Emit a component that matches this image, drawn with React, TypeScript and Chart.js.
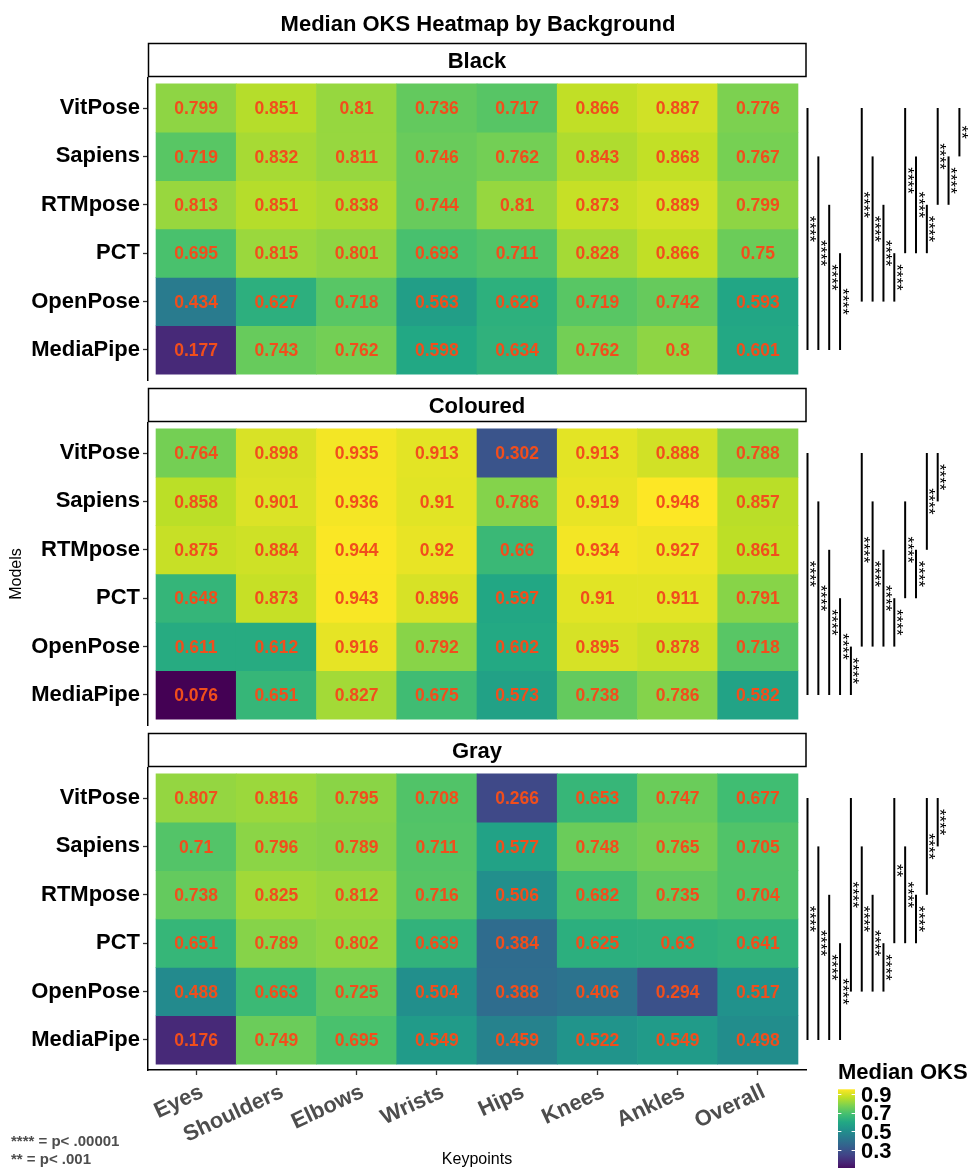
import React, { useEffect, useRef } from "react";
import { Chart, registerables } from "chart.js";

Chart.register(...registerables);

const FONT = "'Liberation Sans', Arial, Helvetica, sans-serif";
Chart.defaults.font.family = FONT;

// ---------------- data ----------------
const models = ["VitPose", "Sapiens", "RTMpose", "PCT", "OpenPose", "MediaPipe"];
const keypoints = ["Eyes", "Shoulders", "Elbows", "Wrists", "Hips", "Knees", "Ankles", "Overall"];
const backgrounds = ["Black", "Coloured", "Gray"];

// rows follow `models`, columns follow `keypoints`
const blackValues = [
  [0.799, 0.851, 0.81, 0.736, 0.717, 0.866, 0.887, 0.776],
  [0.719, 0.832, 0.811, 0.746, 0.762, 0.843, 0.868, 0.767],
  [0.813, 0.851, 0.838, 0.744, 0.81, 0.873, 0.889, 0.799],
  [0.695, 0.815, 0.801, 0.693, 0.711, 0.828, 0.866, 0.75],
  [0.434, 0.627, 0.718, 0.563, 0.628, 0.719, 0.742, 0.593],
  [0.177, 0.743, 0.762, 0.598, 0.634, 0.762, 0.8, 0.601],
];
const colouredValues = [
  [0.764, 0.898, 0.935, 0.913, 0.302, 0.913, 0.888, 0.788],
  [0.858, 0.901, 0.936, 0.91, 0.786, 0.919, 0.948, 0.857],
  [0.875, 0.884, 0.944, 0.92, 0.66, 0.934, 0.927, 0.861],
  [0.648, 0.873, 0.943, 0.896, 0.597, 0.91, 0.911, 0.791],
  [0.611, 0.612, 0.916, 0.792, 0.602, 0.895, 0.878, 0.718],
  [0.076, 0.651, 0.827, 0.675, 0.573, 0.738, 0.786, 0.582],
];
const grayValues = [
  [0.807, 0.816, 0.795, 0.708, 0.266, 0.653, 0.747, 0.677],
  [0.71, 0.796, 0.789, 0.711, 0.577, 0.748, 0.765, 0.705],
  [0.738, 0.825, 0.812, 0.716, 0.506, 0.682, 0.735, 0.704],
  [0.651, 0.789, 0.802, 0.639, 0.384, 0.625, 0.63, 0.641],
  [0.488, 0.663, 0.725, 0.504, 0.388, 0.406, 0.294, 0.517],
  [0.176, 0.749, 0.695, 0.549, 0.459, 0.522, 0.549, 0.498],
];

// pairwise comparisons (in bracket order); an empty label keeps the slot but draws nothing
const blackComparisons: [string, string, string][] = [
  ["VitPose", "MediaPipe", "****"],
  ["Sapiens", "MediaPipe", "****"],
  ["RTMpose", "MediaPipe", "****"],
  ["PCT", "MediaPipe", "****"],
  ["OpenPose", "MediaPipe", ""],
  ["VitPose", "OpenPose", "****"],
  ["Sapiens", "OpenPose", "****"],
  ["RTMpose", "OpenPose", "****"],
  ["PCT", "OpenPose", "****"],
  ["VitPose", "PCT", "****"],
  ["Sapiens", "PCT", "****"],
  ["RTMpose", "PCT", "****"],
  ["VitPose", "RTMpose", "****"],
  ["Sapiens", "RTMpose", "****"],
  ["VitPose", "Sapiens", "**"],
];
const colouredComparisons: [string, string, string][] = [
  ["VitPose", "MediaPipe", "****"],
  ["Sapiens", "MediaPipe", "****"],
  ["RTMpose", "MediaPipe", "****"],
  ["PCT", "MediaPipe", "****"],
  ["OpenPose", "MediaPipe", "****"],
  ["VitPose", "OpenPose", "****"],
  ["Sapiens", "OpenPose", "****"],
  ["RTMpose", "OpenPose", "****"],
  ["PCT", "OpenPose", "****"],
  ["Sapiens", "PCT", "****"],
  ["RTMpose", "PCT", "****"],
  ["VitPose", "RTMpose", "****"],
  ["VitPose", "Sapiens", "****"],
];
const grayComparisons: [string, string, string][] = [
  ["VitPose", "MediaPipe", "****"],
  ["Sapiens", "MediaPipe", "****"],
  ["RTMpose", "MediaPipe", "****"],
  ["PCT", "MediaPipe", "****"],
  ["VitPose", "OpenPose", "****"],
  ["Sapiens", "OpenPose", "****"],
  ["RTMpose", "OpenPose", "****"],
  ["PCT", "OpenPose", "****"],
  ["VitPose", "PCT", "**"],
  ["Sapiens", "PCT", "****"],
  ["RTMpose", "PCT", "****"],
  ["VitPose", "RTMpose", "****"],
  ["VitPose", "Sapiens", "****"],
];

const legendTicks = [0.9, 0.7, 0.5, 0.3];
const footnotes = ["**** = p< .00001", "** = p< .001"];
const chartTitle = "Median OKS Heatmap by Background";
const xTitle = "Keypoints";
const yTitle = "Models";
const legendTitle = "Median OKS";

const panelValues = [blackValues, colouredValues, grayValues];
const panelComparisons = [blackComparisons, colouredComparisons, grayComparisons];

const allValues = panelValues.flat(2);
const vMin = Math.min(...allValues);
const vMax = Math.max(...allValues);

// ---------------- colours ----------------
const VIRIDIS = [
  "#440154", "#482475", "#414487", "#355f8d", "#2a788e", "#21918c",
  "#22a884", "#44bf70", "#7ad151", "#bddf26", "#fde725",
];
function hexToRgb(h: string) {
  return [parseInt(h.slice(1, 3), 16), parseInt(h.slice(3, 5), 16), parseInt(h.slice(5, 7), 16)];
}
function viridis(t: number) {
  const tt = Math.max(0, Math.min(1, t));
  const s = tt * (VIRIDIS.length - 1);
  const i = Math.min(Math.floor(s), VIRIDIS.length - 2);
  const f = s - i;
  const a = hexToRgb(VIRIDIS[i]);
  const b = hexToRgb(VIRIDIS[i + 1]);
  const c = a.map((v, k) => Math.round(v + (b[k] - v) * f));
  return `rgb(${c[0]},${c[1]},${c[2]})`;
}
const colorFor = (v: number) => viridis((v - vMin) / (vMax - vMin));

// ---------------- layout ----------------
const W = 971;
const H = 1168;
const AREA_LEFT = 148;
const AREA_RIGHT = 806;
const PANEL_TOPS = [78, 423, 768];
const PANEL_H = 302;
const BRACKET_STEP = 10.85;
const VALUE_COLOR = "rgb(241,78,28)";

function buildConfig(p: number): any {
  const values = panelValues[p];
  const comps = panelComparisons[p];
  const n = models.length;
  const isBottom = p === panelValues.length - 1;
  const top = PANEL_TOPS[p];
  const bottom = top + PANEL_H;

  const datasets = models.map((m, r) => ({
    label: m,
    data: keypoints.map((_, c) => ({ x: c + 0.5, y: [n - 1 - r, n - r] })),
    backgroundColor: values[r].map(colorFor),
    borderWidth: 0,
    grouped: false,
    barPercentage: 1,
    categoryPercentage: 1,
  }));

  const plugin = {
    id: "heatExtras" + p,
    afterDatasetsDraw(chart: any) {
      const ctx = chart.ctx;
      const xs = chart.scales.x;
      const ys = chart.scales.y;
      const size = 17.5;
      ctx.save();
      ctx.font = `bold ${size}px ${FONT}`;
      ctx.fillStyle = VALUE_COLOR;
      ctx.textAlign = "center";
      ctx.textBaseline = "alphabetic";
      values.forEach((row, r) => {
        row.forEach((v, c) => {
          const cx = xs.getPixelForValue(c + 0.5);
          const cy = ys.getPixelForValue(n - r - 0.5);
          ctx.fillText(String(v), cx, cy + size * 0.358);
        });
      });
      ctx.restore();
    },
    afterDraw(chart: any) {
      const ctx = chart.ctx;
      const area = chart.chartArea;
      const ys = chart.scales.y;
      ctx.save();

      // facet strip
      const sTop = area.top - 34.5;
      const sBot = area.top - 1.5;
      ctx.fillStyle = "#fff";
      ctx.fillRect(area.left, sTop, area.right - area.left, sBot - sTop);
      ctx.lineWidth = 1.5;
      ctx.strokeStyle = "#000";
      ctx.strokeRect(area.left + 0.5, sTop, area.right - area.left - 0.5, sBot - sTop);
      ctx.fillStyle = "#000";
      ctx.font = `bold 22px ${FONT}`;
      ctx.textAlign = "center";
      ctx.textBaseline = "alphabetic";
      ctx.fillText(backgrounds[p], (area.left + area.right) / 2, (sTop + sBot) / 2 + 22 * 0.358);

      // significance brackets
      const rowPix = (name: string) => ys.getPixelForValue(n - 0.5 - models.indexOf(name));
      ctx.font = `17px ${FONT}`;
      const m = ctx.measureText("*");
      const glyphMid = (m.actualBoundingBoxAscent - m.actualBoundingBoxDescent) / 2;
      comps.forEach(([a, b, label], slot) => {
        if (!label) return;
        const x = area.right + 1.5 + slot * BRACKET_STEP;
        const y1 = rowPix(a);
        const y2 = rowPix(b);
        ctx.beginPath();
        ctx.moveTo(x, y1);
        ctx.lineTo(x, y2);
        ctx.lineWidth = 2;
        ctx.strokeStyle = "#000";
        ctx.lineCap = "butt";
        ctx.stroke();
        ctx.save();
        ctx.translate(x + 5.5 - glyphMid, (y1 + y2) / 2);
        ctx.rotate(Math.PI / 2);
        ctx.fillStyle = "#000";
        ctx.textAlign = "center";
        ctx.textBaseline = "alphabetic";
        ctx.fillText(label, 0, 0);
        ctx.restore();
      });

      if (p === 0) {
        ctx.fillStyle = "#000";
        ctx.font = `bold 22px ${FONT}`;
        ctx.textAlign = "center";
        ctx.textBaseline = "alphabetic";
        ctx.fillText(chartTitle, (AREA_LEFT + AREA_RIGHT) / 2 + 1, 31);
      }
      if (p === 1) {
        ctx.save();
        ctx.translate(16.5, (PANEL_TOPS[0] + PANEL_TOPS[2] + PANEL_H) / 2);
        ctx.rotate(-Math.PI / 2);
        ctx.fillStyle = "#000";
        ctx.font = `16px ${FONT}`;
        ctx.textAlign = "center";
        ctx.textBaseline = "middle";
        ctx.fillText(yTitle, 0, 0);
        ctx.restore();
      }
      if (isBottom) {
        // colour bar legend
        const barX = 838;
        const barW = 17;
        const barTop = 1089.3;
        const pxPerUnit = 94;
        const yOf = (v: number) => barTop + (vMax - v) * pxPerUnit;
        const barBottom = yOf(vMin);
        const grad = ctx.createLinearGradient(0, barTop, 0, barBottom);
        for (let k = 0; k < VIRIDIS.length; k++) {
          grad.addColorStop(k / (VIRIDIS.length - 1), VIRIDIS[VIRIDIS.length - 1 - k]);
        }
        ctx.fillStyle = grad;
        ctx.fillRect(barX, barTop, barW, barBottom - barTop);
        ctx.strokeStyle = "#fff";
        ctx.lineWidth = 1;
        legendTicks.forEach((t) => {
          const y = Math.round(yOf(t)) + 0.5;
          ctx.beginPath();
          ctx.moveTo(barX, y);
          ctx.lineTo(barX + 3.4, y);
          ctx.moveTo(barX + barW - 3.4, y);
          ctx.lineTo(barX + barW, y);
          ctx.stroke();
        });
        ctx.fillStyle = "#000";
        ctx.font = `bold 22px ${FONT}`;
        ctx.textAlign = "left";
        ctx.textBaseline = "alphabetic";
        legendTicks.forEach((t) => {
          ctx.fillText(t.toFixed(1), 861, yOf(t) + 22 * 0.358);
        });
        ctx.fillText(legendTitle, 838, 1079);

        // footnotes
        ctx.fillStyle = "#4d4d4d";
        ctx.font = `bold 15px ${FONT}`;
        ctx.fillText(footnotes[0], 11, 1146);
        ctx.fillText(footnotes[1], 11, 1164);
      }
      ctx.restore();
    },
  };

  return {
    type: "bar",
    data: { datasets },
    plugins: [plugin],
    options: {
      responsive: false,
      animation: false,
      devicePixelRatio: 1,
      events: [],
      layout: {
        padding: {
          left: 0,
          right: W - AREA_RIGHT,
          top,
          bottom: isBottom ? 0 : H - bottom,
        },
      },
      plugins: {
        legend: { display: false },
        tooltip: { enabled: false },
        title: { display: false },
      },
      scales: {
        x: {
          type: "linear",
          min: -0.1,
          max: keypoints.length + 0.1,
          bounds: "data",
          offset: false,
          display: isBottom,
          afterBuildTicks: (s: any) => {
            s.ticks = keypoints.map((_, i) => ({ value: i + 0.5 }));
          },
          afterFit: (s: any) => {
            if (isBottom) s.height = H - (PANEL_TOPS[2] + PANEL_H);
            else s.height = 0;
          },
          ticks: {
            autoSkip: false,
            minRotation: 25,
            maxRotation: 25,
            padding: 4,
            labelOffset: 6,
            color: "#4d4d4d",
            font: { size: 22, weight: "bold" },
            callback: (v: number) => keypoints[Math.floor(v)],
          },
          grid: {
            display: true,
            offset: false,
            drawOnChartArea: false,
            drawTicks: true,
            tickLength: 5,
            tickColor: "#333",
            tickWidth: 1.3,
          },
          border: { display: true, color: "#000", width: 1.5 },
          title: {
            display: true,
            text: xTitle,
            color: "#000",
            font: { size: 16, weight: "normal", lineHeight: 1 },
            padding: { top: 0, bottom: 0 },
          },
        },
        y: {
          type: "linear",
          min: -0.12,
          max: models.length + 0.12,
          bounds: "data",
          offset: false,
          afterBuildTicks: (s: any) => {
            s.ticks = models.map((_, r) => ({ value: n - r - 0.5 }));
          },
          afterFit: (s: any) => {
            s.width = AREA_LEFT;
          },
          ticks: {
            autoSkip: false,
            padding: 3,
            color: "#000",
            font: { size: 22, weight: "bold" },
            callback: (v: number) => models[n - 1 - Math.floor(v)],
          },
          grid: {
            display: true,
            offset: false,
            drawOnChartArea: false,
            drawTicks: true,
            tickLength: 5,
            tickColor: "#333",
            tickWidth: 1.3,
          },
          border: { display: true, color: "#000", width: 1.5 },
        },
      },
    },
  };
}

function Panel({ index }: { index: number }) {
  const ref = useRef<HTMLCanvasElement>(null);
  useEffect(() => {
    if (!ref.current) return;
    const chart = new Chart(ref.current, buildConfig(index));
    return () => chart.destroy();
  }, [index]);
  return (
    <canvas
      ref={ref}
      width={W}
      height={H}
      style={{ position: "absolute", left: 0, top: 0, width: W, height: H }}
    />
  );
}

export default function App() {
  return (
    <div
      style={{
        position: "absolute",
        left: 0,
        top: 0,
        width: W,
        height: H,
        background: "#fff",
        overflow: "hidden",
      }}
    >
      {panelValues.map((_, i) => (
        <Panel key={i} index={i} />
      ))}
    </div>
  );
}
